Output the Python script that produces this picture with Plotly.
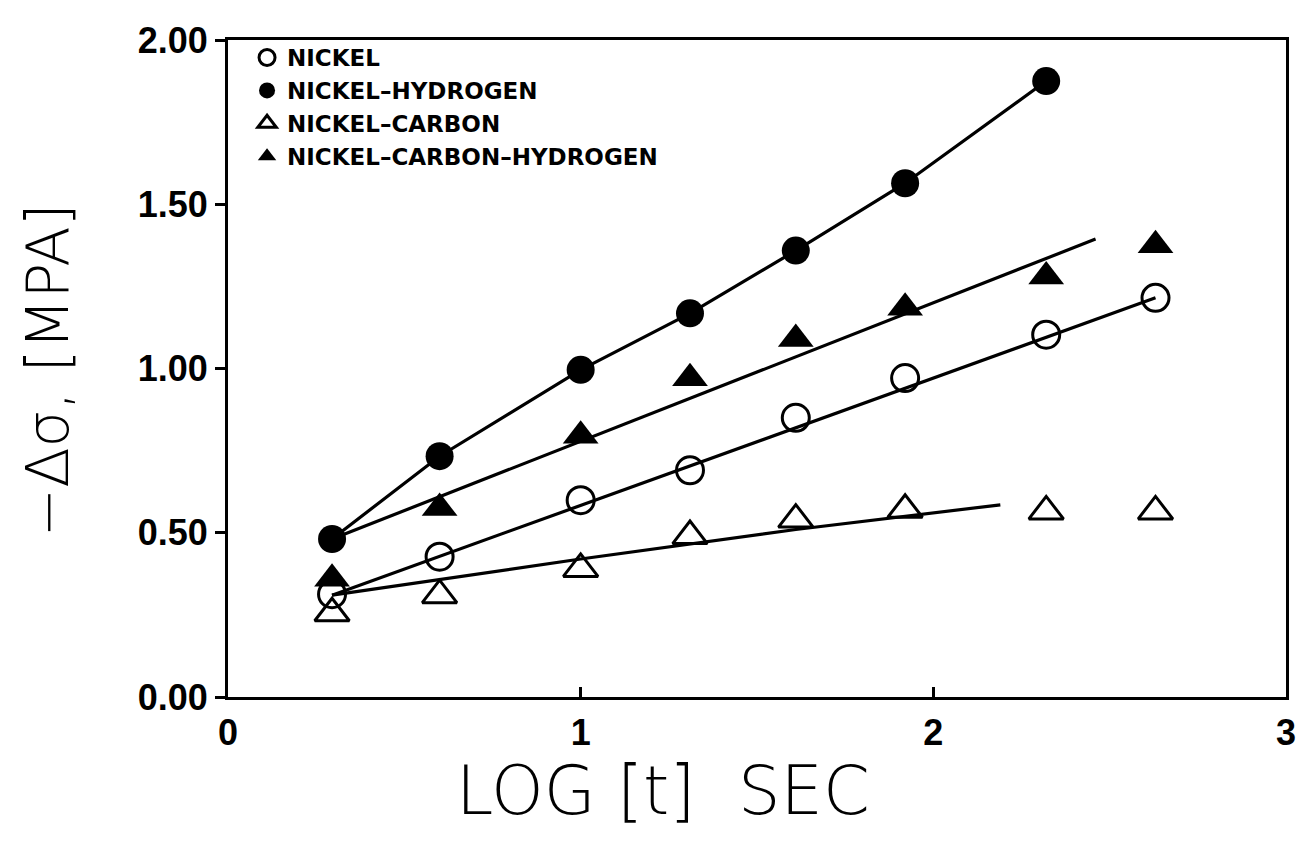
import plotly.graph_objects as go

# ---- data ----
log_t = [0.295, 0.60, 1.00, 1.31, 1.61, 1.92, 2.32, 2.63]

nickel = [0.313, 0.427, 0.599, 0.690, 0.850, 0.971, 1.103, 1.215]
nickel_h = [0.481, 0.733, 0.996, 1.168, 1.359, 1.564, 1.875]
nickel_c = [0.255, 0.31, 0.39, 0.49, 0.54, 0.57, 0.565, 0.565]
nickel_ch = [0.36, 0.575, 0.795, 0.97, 1.09, 1.185, 1.28, 1.375]

# fitted straight lines
nickel_fit_x = [0.295, 2.63]
nickel_fit_y = [0.31, 1.215]
nc_fit_x = [0.295, 1.00, 1.61, 2.19]
nc_fit_y = [0.31, 0.42, 0.51, 0.585]
nch_fit_x = [0.295, 2.46]
nch_fit_y = [0.481, 1.394]

x_ticks = [0, 1, 2, 3]
y_ticks = [0.0, 0.5, 1.0, 1.5, 2.0]

names = ["NICKEL", "NICKEL–HYDROGEN", "NICKEL–CARBON", "NICKEL–CARBON–HYDROGEN"]

BLACK = "#000000"
LW = 3.2

fig = go.Figure()

# lines (no legend)
fig.add_trace(go.Scatter(x=nickel_fit_x, y=nickel_fit_y, mode="lines",
                         line=dict(color=BLACK, width=LW), showlegend=False, hoverinfo="skip"))
fig.add_trace(go.Scatter(x=log_t[:len(nickel_h)], y=nickel_h, mode="lines",
                         line=dict(color=BLACK, width=LW), showlegend=False, hoverinfo="skip"))
fig.add_trace(go.Scatter(x=nc_fit_x, y=nc_fit_y, mode="lines",
                         line=dict(color=BLACK, width=LW), showlegend=False, hoverinfo="skip"))
fig.add_trace(go.Scatter(x=nch_fit_x, y=nch_fit_y, mode="lines",
                         line=dict(color=BLACK, width=LW), showlegend=False, hoverinfo="skip"))

# markers
fig.add_trace(go.Scatter(x=log_t, y=nickel, mode="markers", name=names[0],
                         marker=dict(symbol="circle-open", size=27, color=BLACK,
                                     line=dict(width=3, color=BLACK))))
fig.add_trace(go.Scatter(x=log_t[:len(nickel_h)], y=nickel_h, mode="markers", name=names[1],
                         marker=dict(symbol="circle", size=28, color=BLACK)))
fig.add_trace(go.Scatter(x=log_t, y=nickel_c, mode="markers", name=names[2],
                         marker=dict(symbol="triangle-up-open", size=30, color=BLACK,
                                     line=dict(width=3, color=BLACK))))
fig.add_trace(go.Scatter(x=log_t, y=nickel_ch, mode="markers", name=names[3],
                         marker=dict(symbol="triangle-up", size=31, color=BLACK)))

tick_font = dict(family="Liberation Sans", size=36, color=BLACK, weight="bold")
xtitle_font = dict(family="DejaVu Sans", size=67, color=BLACK, weight=200)
ytitle_font = dict(family="DejaVu Sans", size=59, color=BLACK, weight=200)

fig.update_layout(
    width=1304, height=844,
    margin=dict(l=220, r=26, t=23, b=155),
    paper_bgcolor="white", plot_bgcolor="white",
    xaxis=dict(range=[0, 3], tickvals=x_ticks, ticktext=[str(v) for v in x_ticks],
               showgrid=False, zeroline=False, showline=True, linecolor=BLACK, linewidth=3,
               mirror=True, ticks="inside", ticklen=10, tickwidth=3, tickcolor=BLACK,
               tickfont=tick_font, ticklabelstandoff=2),
    yaxis=dict(range=[0, 2], tickvals=y_ticks, ticktext=[f"{v:.2f}" for v in y_ticks],
               showgrid=False, zeroline=False, showline=True, linecolor=BLACK, linewidth=3,
               mirror=True, ticks="outside", ticklen=10, tickwidth=3, tickcolor=BLACK,
               tickfont=tick_font, ticklabelstandoff=0),
    xaxis2=dict(range=[0, 3], overlaying="x", anchor="y", side="bottom",
                tickvals=x_ticks, ticks="outside", ticklen=10, tickwidth=3, tickcolor=BLACK,
                showticklabels=False, showgrid=False, zeroline=False, showline=False),
    yaxis2=dict(range=[0, 2], overlaying="y", anchor="x", side="left",
                tickvals=y_ticks, ticks="inside", ticklen=10, tickwidth=3, tickcolor=BLACK,
                showticklabels=False, showgrid=False, zeroline=False, showline=False),
    legend=dict(x=0.018, y=1.006, xanchor="left", yanchor="top",
                bgcolor="rgba(0,0,0,0)", borderwidth=0, tracegroupgap=0,
                font=dict(family="DejaVu Sans", size=23, color=BLACK, weight="bold")),
    annotations=[
        dict(text="LOG [t]  SEC", xref="paper", yref="paper", x=0.411, y=-0.143,
             xanchor="center", yanchor="middle", showarrow=False, font=xtitle_font),
        dict(text="−Δσ, [MPA]", xref="paper", yref="paper", x=-0.171, y=0.4975,
             xanchor="center", yanchor="middle", showarrow=False, textangle=-90,
             font=ytitle_font),
    ],
    showlegend=True,
)

fig.write_html("out.html")
